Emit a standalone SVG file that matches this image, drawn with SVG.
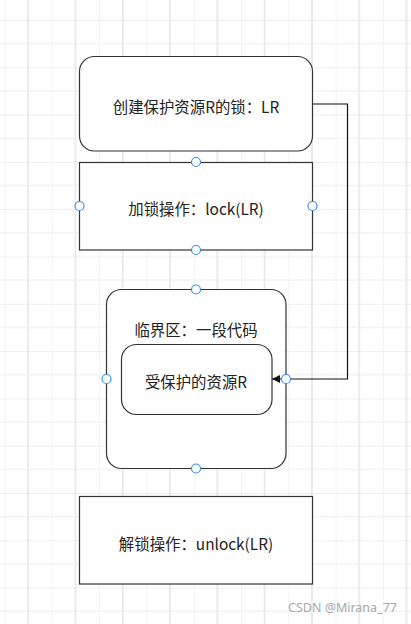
<svg xmlns="http://www.w3.org/2000/svg" width="411" height="624" viewBox="0 0 411 624">
<defs>
<pattern id="grid" patternUnits="userSpaceOnUse" x="4.5" y="20" width="47.3" height="47.3">
<line x1="0" y1="0" x2="0" y2="47.3" stroke="#ececec" stroke-width="1.2"/>
<line x1="23.65" y1="0" x2="23.65" y2="47.3" stroke="#dedede" stroke-width="1.2"/>
<line x1="0" y1="0" x2="47.3" y2="0" stroke="#dedede" stroke-width="1.2"/>
<line x1="0" y1="23.65" x2="47.3" y2="23.65" stroke="#ececec" stroke-width="1.2"/>
</pattern>
<marker id="arr" markerWidth="10" markerHeight="10" refX="8" refY="4" orient="auto" markerUnits="userSpaceOnUse">
<path d="M0,0 L8,4 L0,8 Z" fill="#111"/>
</marker>
<style>
.box{fill:#fff;stroke:#333;stroke-width:1.2}
.t{font-family:"Noto Sans CJK SC","Microsoft YaHei",sans-serif;font-size:15.4px;fill:#222;text-anchor:middle;dominant-baseline:central}
.pt{fill:#fff;stroke:#3b8fe8;stroke-width:1.2}
.wm{font-family:"Noto Sans","Noto Sans CJK SC",sans-serif;font-size:12.5px;fill:#a8a8a8}
</style>
</defs>
<rect width="411" height="624" fill="#fff"/>
<rect width="411" height="624" fill="url(#grid)"/>
<g id="node-create">
<rect class="box" x="79.5" y="56.5" width="233" height="94.5" rx="15"/>
<text class="t" x="196" y="105.5">创建保护资源R的锁：LR</text>
</g>
<g id="node-lock">
<rect class="box" x="79.5" y="162.5" width="233" height="87.5"/>
<text class="t" x="196" y="207.5">加锁操作：lock(LR)</text>
</g>
<g id="node-critical">
<rect class="box" x="106.5" y="289.5" width="179.5" height="179" rx="15"/>
<text class="t" x="196" y="328.5">临界区：一段代码</text>
</g>
<g id="node-resource">
<rect class="box" x="121.5" y="344.5" width="150.5" height="70" rx="15"/>
<text class="t" x="196" y="380.5">受保护的资源R</text>
</g>
<g id="node-unlock">
<rect class="box" x="79.5" y="496.5" width="233" height="87.5"/>
<text class="t" x="196" y="542.5">解锁操作：unlock(LR)</text>
</g>
<g id="connectors">
<polyline points="313,104 347.5,104 347.5,379 272,379" fill="none" stroke="#111" stroke-width="1.2" marker-end="url(#arr)"/>
</g>
<g id="handles">
<circle class="pt" cx="196" cy="162" r="4.5"/>
<circle class="pt" cx="79.5" cy="206" r="4.5"/>
<circle class="pt" cx="312.5" cy="206" r="4.5"/>
<circle class="pt" cx="196" cy="250" r="4.5"/>
<circle class="pt" cx="196" cy="289.5" r="4.5"/>
<circle class="pt" cx="106.5" cy="379" r="4.5"/>
<circle class="pt" cx="286" cy="379" r="4.5"/>
<circle class="pt" cx="196" cy="468.5" r="4.5"/>
</g>
<text class="wm" x="288" y="612">CSDN @Mirana_77</text>
</svg>
